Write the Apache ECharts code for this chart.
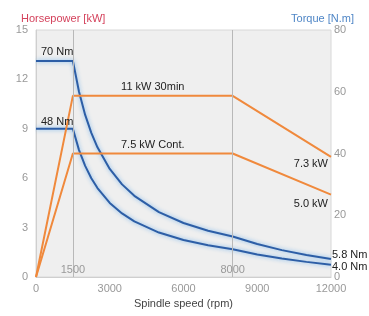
<!DOCTYPE html>
<html>
<head>
<meta charset="utf-8">
<script src="https://cdn.jsdelivr.net/npm/echarts@6/dist/echarts.min.js"></script>
<style>
  html, body { margin: 0; padding: 0; background: #fff; }
</style>
</head>
<body>
<div id="chart" style="width: 369px; height: 316px"></div>
<script>
// spindle speed (rpm) and torque readings [N.m]
const rpmList = [0, 1500, 1750, 2000, 2250, 2500, 3000, 3500, 4000, 5000, 6000, 7000, 8000, 9000, 10000, 11000, 12000]
const torque30min = [70, 70, 60, 52.5, 46.7, 42, 35, 30, 26.3, 21, 17.5, 15, 13.1, 10.7, 8.7, 7.1, 5.8]
const torqueCont = [48, 48, 41.1, 36, 32, 28.8, 24, 20.6, 18, 14.4, 12, 10.3, 9, 7.3, 6.0, 4.9, 4.0]

// power [kW]
const powerRpm = [0, 1500, 8000, 12000]
const power30min = [0, 11, 11, 7.3]
const powerCont = [0, 7.5, 7.5, 5.0]

// axes
const xTicks = [0, 3000, 6000, 9000, 12000]
const markRpm = [1500, 8000]

const blue = '#2d5ea6'
const orange = '#f0893c'
const font = 'Liberation Sans'

const zip = (xs, ys) => xs.map((x, i) => [x, ys[i]])

// text label sitting on a data point
const tag = (coord, text, opt) => ({
  coord,
  symbol: 'circle',
  symbolSize: 0,
  label: Object.assign({
    show: true,
    formatter: text,
    color: '#222',
    fontSize: 11,
    fontFamily: font
  }, opt)
})

const torqueLine = (name, data, marks) => ({
  name,
  type: 'line',
  yAxisIndex: 1,
  data,
  symbol: 'none',
  lineStyle: {
    color: blue,
    width: 2,
    shadowColor: 'rgba(110,175,235,0.9)',
    shadowBlur: 4
  },
  markPoint: { silent: true, data: marks },
  z: 3
})

const powerLine = (name, data, marks) => ({
  name,
  type: 'line',
  yAxisIndex: 0,
  data,
  symbol: 'none',
  lineStyle: { color: orange, width: 2 },
  markPoint: { silent: true, data: marks },
  z: 4
})

const chart = echarts.init(document.getElementById('chart'))
chart.setOption({
  animation: false,
  title: [
    { text: 'Horsepower [kW]', left: 16, top: 8, textStyle: { color: '#d4425c', fontSize: 11, fontWeight: 'normal', fontFamily: font } },
    { text: 'Torque [N.m]', right: 10, top: 8, textStyle: { color: '#4f86c6', fontSize: 11, fontWeight: 'normal', fontFamily: font } }
  ],
  grid: {
    left: 36, right: 38, top: 30, bottom: 39,
    show: true,
    backgroundColor: '#efefef',
    borderColor: '#d8d8d8',
    borderWidth: 1
  },
  xAxis: {
    type: 'value',
    min: 0,
    max: 12000,
    interval: 3000,
    name: 'Spindle speed (rpm)',
    nameLocation: 'middle',
    nameGap: 20,
    nameTextStyle: { color: '#444', fontSize: 11, fontFamily: font },
    axisLine: { lineStyle: { color: '#cfcfcf' } },
    axisTick: { show: false },
    splitLine: { show: false },
    axisLabel: {
      color: '#999',
      fontSize: 11,
      fontFamily: font,
      margin: 6,
      customValues: xTicks,
      formatter: v => String(v)
    }
  },
  yAxis: [{
    type: 'value',
    min: 0,
    max: 15,
    interval: 3,
    axisLine: { show: true, lineStyle: { color: '#cfcfcf' } },
    axisTick: { show: false },
    splitLine: { show: false },
    axisLabel: { color: '#999', fontSize: 11, fontFamily: font, margin: 8 }
  }, {
    type: 'value',
    min: 0,
    max: 80,
    interval: 20,
    axisLine: { show: false },
    axisTick: { show: false },
    splitLine: { show: false },
    axisLabel: { color: '#999', fontSize: 11, fontFamily: font, margin: 3 }
  }],
  series: [
    {
      name: 'marks',
      type: 'line',
      data: zip(markRpm, [0, 0]),
      symbol: 'none',
      lineStyle: { width: 0 },
      markLine: {
        silent: true,
        symbol: 'none',
        label: { show: false },
        lineStyle: { color: '#b8b8b8', width: 1, type: 'solid' },
        data: markRpm.map(x => ({ xAxis: x }))
      },
      markPoint: {
        silent: true,
        data: markRpm.map(x => tag([x, 0], String(x), { position: 'top', distance: 2, color: '#999' }))
      },
      z: 1
    },
    torqueLine('70 Nm', zip(rpmList, torque30min), [
      tag([0, 70], '70 Nm', { position: 'right', offset: [0, -9] }),
      tag([12000, 5.8], '5.8 Nm', { position: 'right', offset: [-4, -4] })
    ]),
    torqueLine('48 Nm', zip(rpmList, torqueCont), [
      tag([0, 48], '48 Nm', { position: 'right', offset: [0, -7] }),
      tag([12000, 4.0], '4.0 Nm', { position: 'right', offset: [-4, 2] })
    ]),
    powerLine('11 kW 30min', zip(powerRpm, power30min), [
      tag([4750, 11], '11 kW 30min', { position: 'top', distance: 3 }),
      tag([12000, 7.3], '7.3 kW', { position: 'left', offset: [2, 7] })
    ]),
    powerLine('7.5 kW Cont.', zip(powerRpm, powerCont), [
      tag([4750, 7.5], '7.5 kW Cont.', { position: 'top', distance: 3 }),
      tag([12000, 5.0], '5.0 kW', { position: 'left', offset: [2, 9] })
    ])
  ]
})
</script>
</body>
</html>
